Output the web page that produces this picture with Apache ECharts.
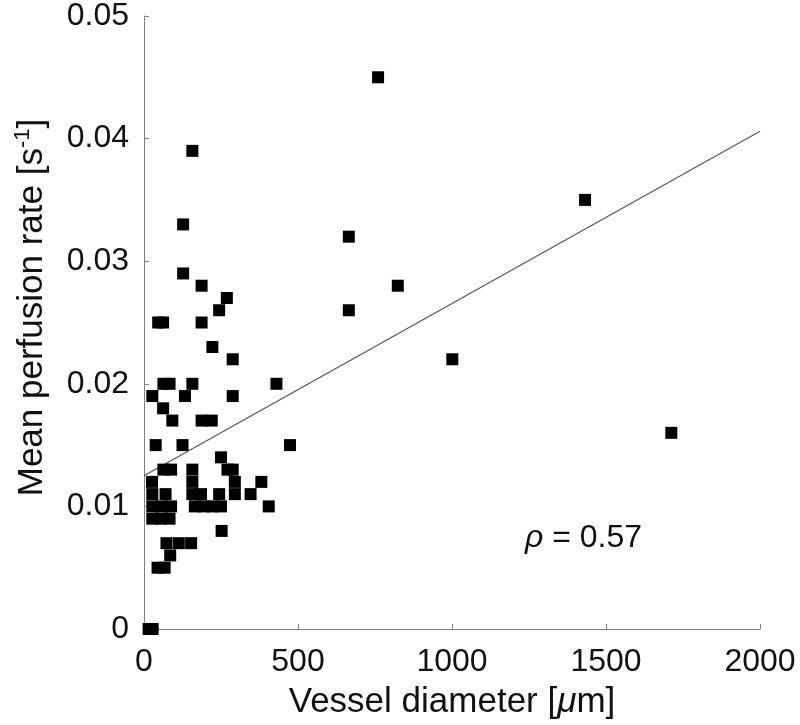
<!DOCTYPE html>
<html>
<head>
<meta charset="utf-8">
<script src="https://cdn.jsdelivr.net/npm/echarts@6/dist/echarts.min.js"></script>
<style>html,body{margin:0;padding:0;background:#fff;}#c{width:800px;height:725px;}</style>
</head>
<body>
<div id="c"></div>
<script>
// Vessel diameter [µm] and mean perfusion rate [1/s]
const diameter = [
  760, 157, 1432, 127, 665, 127, 187, 824, 269, 244, 665,
  46, 62, 187, 222, 288, 1001,
  63, 83, 157, 430,
  27, 133, 288, 62, 92, 187, 220, 1712,
  38, 125, 474, 250,
  63, 88, 157, 271, 288,
  26, 157, 295, 381,
  27, 70, 157, 185, 244, 295, 346,
  27, 58, 88, 165, 195, 222, 250, 405,
  27, 55, 83, 252,
  73, 113, 153, 85, 44, 67,
  15, 28
];
const perfusion = [
  0.045, 0.039, 0.035, 0.033, 0.032, 0.029, 0.028, 0.028, 0.027, 0.026, 0.026,
  0.025, 0.025, 0.025, 0.023, 0.022, 0.022,
  0.020, 0.020, 0.020, 0.020,
  0.019, 0.019, 0.019, 0.018, 0.017, 0.017, 0.017, 0.016,
  0.015, 0.015, 0.015, 0.014,
  0.013, 0.013, 0.013, 0.013, 0.013,
  0.012, 0.012, 0.012, 0.012,
  0.011, 0.011, 0.011, 0.011, 0.011, 0.011, 0.011,
  0.010, 0.010, 0.010, 0.010, 0.010, 0.010, 0.010, 0.010,
  0.009, 0.009, 0.009, 0.008,
  0.007, 0.007, 0.007, 0.006, 0.005, 0.005,
  0.000, 0.000
];
// Linear fit line end points
const fitX = [0, 2000];
const fitY = [0.0125, 0.0406];
const xTicks = ['0', '500', '1000', '1500', '2000'];
const yTicks = ['0', '0.01', '0.02', '0.03', '0.04', '0.05'];
const rhoText = '0.57';

const points = diameter.map((d, i) => [d, perfusion[i]]);
const fit = fitX.map((x, i) => [x, fitY[i]]);

const FONT = 'Liberation Sans, Arial, sans-serif';
const axisGray = '#808080';
const chart = echarts.init(document.getElementById('c'), null, {renderer: 'canvas'});
chart.setOption({
  animation: false,
  backgroundColor: '#ffffff',
  grid: {left: 144, top: 12, width: 616, height: 617},
  xAxis: {
    type: 'value', min: 0, max: 2000, interval: 500,
    name: 'Vessel diameter [{mu|μ}m]',
    nameLocation: 'middle', nameGap: 56,
    nameTextStyle: {fontFamily: FONT, fontSize: 35, color: '#111',
      rich: {mu: {fontFamily: FONT, fontSize: 35, fontStyle: 'italic', color: '#111'}}},
    axisLine: {show: true, lineStyle: {color: axisGray, width: 1}},
    axisTick: {show: true, inside: true, length: 5, lineStyle: {color: axisGray}},
    axisLabel: {fontFamily: FONT, fontSize: 32, color: '#111', margin: 17,
      formatter: (v) => xTicks[Math.round(v / 500)]},
    splitLine: {show: false}
  },
  yAxis: {
    type: 'value', min: 0, max: 0.05, interval: 0.01,
    name: 'Mean perfusion rate [s{sup|-1}]',
    nameLocation: 'middle', nameGap: 92,
    nameTextStyle: {fontFamily: FONT, fontSize: 35, color: '#111', padding: [0, 0, 0, 30],
      rich: {sup: {fontFamily: FONT, fontSize: 22, color: '#111', verticalAlign: 'top', lineHeight: 40}}},
    axisLine: {show: true, lineStyle: {color: axisGray, width: 1}},
    axisTick: {show: true, inside: true, length: 5, lineStyle: {color: axisGray}},
    axisLabel: {fontFamily: FONT, fontSize: 32, color: '#111', margin: 15,
      formatter: (v) => yTicks[Math.round(v * 100)]},
    splitLine: {show: false}
  },
  series: [
    {
      type: 'line', data: fit, symbol: 'none', silent: true,
      lineStyle: {color: '#555', width: 1.2}, z: 1
    },
    {
      type: 'scatter', data: points, symbol: 'rect', symbolSize: 12, clip: false,
      itemStyle: {color: '#000', opacity: 1}, z: 3
    }
  ],
  graphic: [{
    type: 'text', left: 525, top: 522,
    style: {
      text: '{r|ρ} = ' + rhoText,
      font: '32px ' + FONT, fill: '#111',
      rich: {r: {fontStyle: 'italic', fontSize: 32, fontFamily: FONT, fill: '#111'}}
    }
  }]
});
</script>
</body>
</html>
